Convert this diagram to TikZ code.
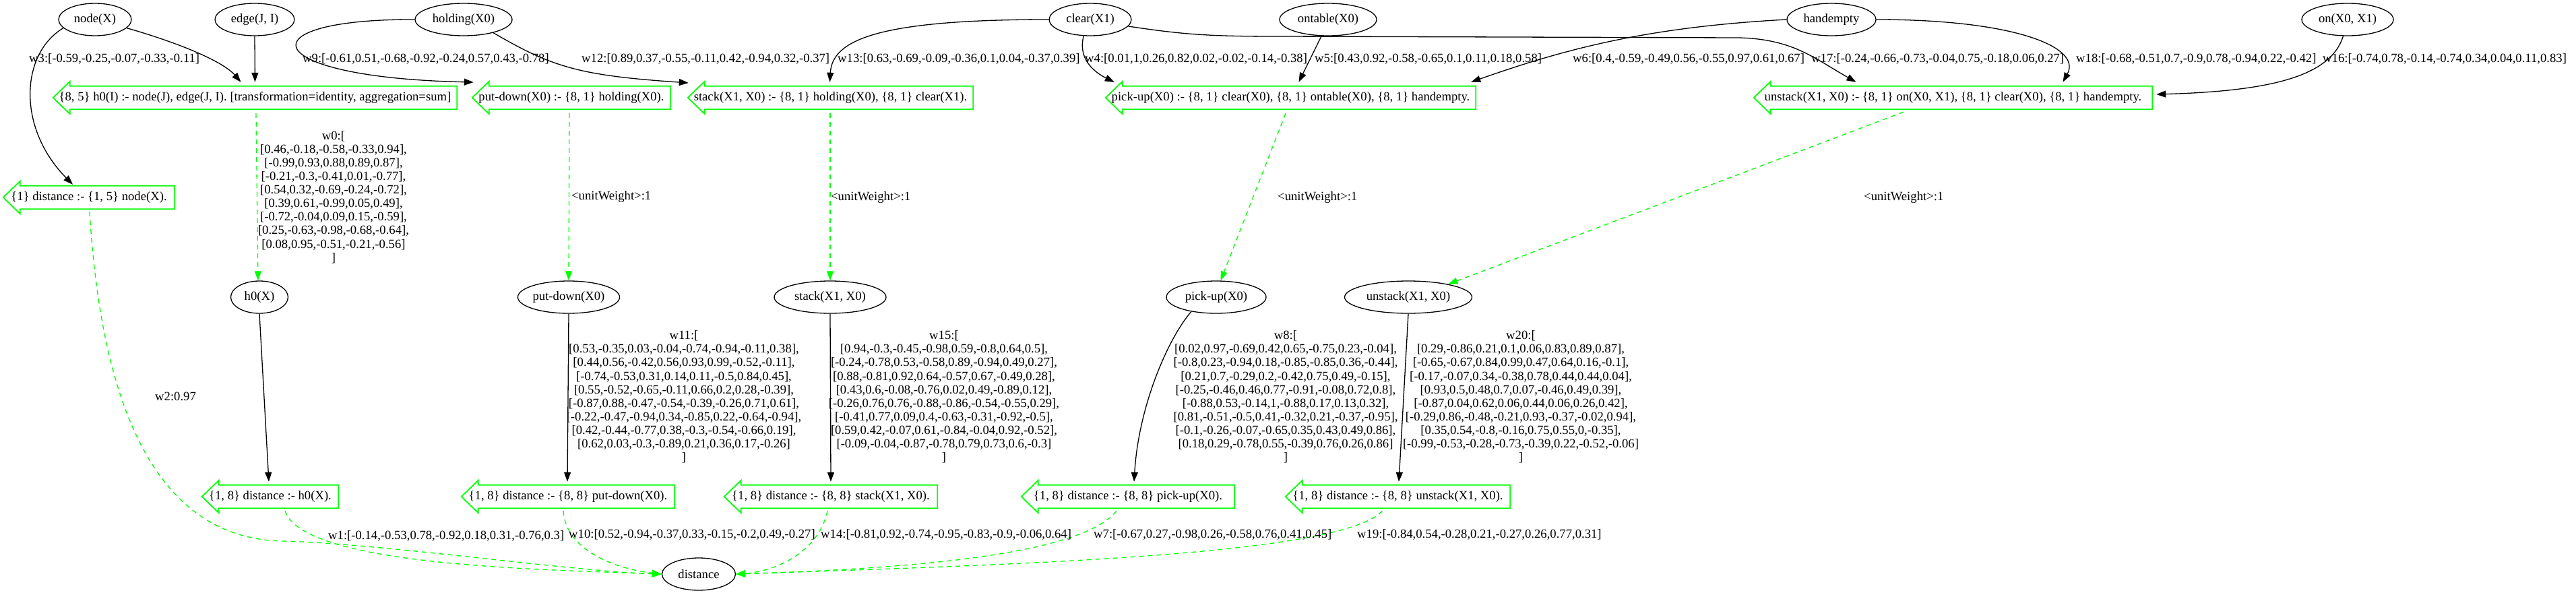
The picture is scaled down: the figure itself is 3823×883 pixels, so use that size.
\documentclass[tikz,border=0pt]{standalone}
\usepackage{fontspec}
\setmainfont{Liberation Serif}
\usetikzlibrary{shapes.geometric,arrows.meta}
\definecolor{gcol}{RGB}{0,255,0}
\tikzset{
  every node/.style={font=\fontsize{18.67pt}{20.1pt}\selectfont, inner sep=0pt},
  atom/.style={draw, ellipse, line width=1.3pt, minimum height=48pt},
  rulebox/.style={minimum height=34pt, inner sep=0pt},
  ruleline/.style={draw=gcol, line width=1.8pt, line join=miter},
  conn/.style={draw, line width=1.3pt, -{Triangle[length=14pt,width=10pt]}},
  gconn/.style={draw=gcol, line width=1.3pt, dash pattern=on 7pt off 6pt, -{Triangle[length=14pt,width=10pt]}},
  wlabel/.style={anchor=west},
  mlabel/.style={align=center}
}
\newcommand{\larrowline}[1]{\draw[ruleline] ([xshift=25pt]#1.north west) -- (#1.north east) -- (#1.south east) -- ([xshift=25pt]#1.south west) -- ([xshift=25pt,yshift=-7pt]#1.south west) -- (#1.west) -- ([xshift=25pt,yshift=7pt]#1.north west) -- cycle;}
\begin{document}
\begin{tikzpicture}[x=1pt,y=-1pt]
\useasboundingbox[fill=white] (0,0) rectangle (3823,883);
% atoms
\node[atom, minimum width=108pt] (nodeX) at (141,29) {node(X)};
\node[atom, minimum width=118pt] (edgeJI) at (378,29) {edge(J, I)};
\node[atom, minimum width=144pt] (holding) at (688,29) {holding(X0)};
\node[atom, minimum width=122pt] (clear) at (1618,29) {clear(X1)};
\node[atom, minimum width=144pt] (ontable) at (1971,29) {ontable(X0)};
\node[atom, minimum width=132pt] (handempty) at (2718,29) {handempty};
\node[atom, minimum width=136pt] (onXX) at (3484,29) {on(X0, X1)};
\node[atom, minimum width=85pt] (h0X) at (385,441) {h0(X)};
\node[atom, minimum width=150pt] (pdE) at (844,441) {put-down(X0)};
\node[atom, minimum width=166pt] (stE) at (1232,441) {stack(X1, X0)};
\node[atom, minimum width=148pt] (puE) at (1805,441) {pick-up(X0)};
\node[atom, minimum width=189pt] (unE) at (2090,441) {unstack(X1, X0)};
\node[atom, minimum width=109pt] (dist) at (1037,852) {distance};
% rules
\node[rulebox, minimum width=599pt] (rh0) at (378.5,145) {\{8, 5\} h0(I) :- node(J), edge(J, I). [transformation=identity, aggregation=sum]};
\node[rulebox, minimum width=294pt] (rpd) at (848,145) {put-down(X0) :- \{8, 1\} holding(X0).};
\node[rulebox, minimum width=423pt] (rst) at (1232.5,145) {stack(X1, X0) :- \{8, 1\} holding(X0), \{8, 1\} clear(X1).};
\node[rulebox, minimum width=549pt] (rpu) at (1915.5,145) {pick-up(X0) :- \{8, 1\} clear(X0), \{8, 1\} ontable(X0), \{8, 1\} handempty.};
\node[rulebox, minimum width=591pt] (run) at (2898.5,145) {unstack(X1, X0) :- \{8, 1\} on(X0, X1), \{8, 1\} clear(X0), \{8, 1\} handempty.};
\node[rulebox, minimum width=254pt] (rd1) at (132,293) {\{1\} distance :- \{1, 5\} node(X).};
\node[rulebox, minimum width=202pt] (dh0) at (401,737) {\{1, 8\} distance :- h0(X).};
\node[rulebox, minimum width=316pt] (dpd) at (843,737) {\{1, 8\} distance :- \{8, 8\} put-down(X0).};
\node[rulebox, minimum width=316pt] (dst) at (1233,737) {\{1, 8\} distance :- \{8, 8\} stack(X1, X0).};
\node[rulebox, minimum width=316pt] (dpu) at (1674,737) {\{1, 8\} distance :- \{8, 8\} pick-up(X0).};
\node[rulebox, minimum width=333pt] (dun) at (2074.5,737) {\{1, 8\} distance :- \{8, 8\} unstack(X1, X0).};
\foreach \n in {rh0,rpd,rst,rpu,run,rd1,dh0,dpd,dst,dpu,dun} {\larrowline{\n}}
% black connectors (top)
\draw[conn] (nodeX.195) .. controls (30,80) and (25,190) .. ([xshift=-24pt,yshift=2pt]rd1.north);
\draw[conn] (nodeX.-15) .. controls (260,62) and (330,90) .. ([xshift=-21pt,yshift=6pt]rh0.north);
\draw[conn] (edgeJI.south) -- ([yshift=6pt]rh0.north);
\draw[conn] (holding.west) .. controls (360,28) and (380,115) .. ([xshift=2pt,yshift=23pt]rpd.west);
\draw[conn] (holding.-24) .. controls (820,100) and (860,112) .. ([xshift=1pt,yshift=22pt]rst.west);
\draw[conn] (clear.west) .. controls (1300,29) and (1235,60) .. ([xshift=-1pt,yshift=6pt]rst.north);
\draw[conn] (clear.-112) .. controls (1600,85) and (1620,105) .. ([xshift=13pt,yshift=23pt]rpu.west);
\draw[conn] (ontable.-112) -- ([xshift=12pt,yshift=6pt]rpu.north);
\draw[conn] (handempty.west) .. controls (2450,40) and (2330,70) .. ([xshift=-7pt,yshift=6pt]rpu.north east);
\draw[conn] (clear.-10) .. controls (1760,52) and (1800,54) .. (1900,54) -- (2580,56) .. controls (2660,58) and (2690,85) .. ([xshift=-144pt,yshift=6pt]run.north);
\draw[conn] (handempty.east) .. controls (2990,29) and (3090,70) .. ([xshift=163pt,yshift=6pt]run.north);
\draw[conn] (onXX.-105) .. controls (3460,110) and (3380,135) .. ([xshift=6pt,yshift=5pt]run.east);
% green rule -> atom
\draw[gconn] ([xshift=1.5pt,yshift=-6pt]rh0.south) -- ([xshift=-2pt]h0X.north);
\draw[gconn] ([xshift=-3pt,yshift=-6pt]rpd.south) -- (pdE.north);
\draw[gconn] ([xshift=-0.5pt,yshift=-6pt]rst.south) -- (stE.north);
\draw[gconn] ([xshift=-7.5pt,yshift=-6pt]rpu.south) -- (puE.75);
\draw[gconn] ([xshift=-73.5pt,yshift=-4pt]run.south) -- (unE.18);
% black atom -> distance rules
\draw[conn] (h0X.south) -- ([xshift=-2pt,yshift=5pt]dh0.north);
\draw[conn] (pdE.south) -- ([xshift=-1pt,yshift=5pt]dpd.north);
\draw[conn] (stE.south) -- ([yshift=5pt]dst.north);
\draw[conn] (puE.210) .. controls (1735,500) and (1690,600) .. ([xshift=9pt,yshift=5pt]dpu.north);
\draw[conn] (unE.south) -- ([xshift=1.5pt,yshift=5pt]dun.north);
% green to distance
\draw[gconn] ([xshift=1pt,yshift=-4pt]rd1.south) .. controls (150,600) and (230,800) .. (420,803) .. controls (560,806) and (850,848) .. (dist.west);
\draw[gconn] ([xshift=22pt,yshift=-4pt]dh0.south) .. controls (450,840) and (800,845) .. (dist.west);
\draw[gconn] ([xshift=-7pt,yshift=-4pt]dpd.south) .. controls (840,820) and (920,845) .. (dist.west);
\draw[gconn] ([xshift=-5pt,yshift=-4pt]dst.south) .. controls (1215,820) and (1150,848) .. (dist.east);
\draw[gconn] ([xshift=-17pt,yshift=-4pt]dpu.south) .. controls (1600,830) and (1300,845) .. (dist.east);
\draw[gconn] ([xshift=-23pt,yshift=-4pt]dun.south) .. controls (1990,825) and (1500,838) .. (dist.east);
% edge labels
\node[wlabel] (lw3) at (43,87) {w3:[-0.59,-0.25,-0.07,-0.33,-0.11]};
\node[wlabel] (lw9) at (449,87) {w9:[-0.61,0.51,-0.68,-0.92,-0.24,0.57,0.43,-0.78]};
\node[wlabel] (lw12) at (863,87) {w12:[0.89,0.37,-0.55,-0.11,0.42,-0.94,0.32,-0.37]};
\node[wlabel] (lw13) at (1243,87) {w13:[0.63,-0.69,-0.09,-0.36,0.1,0.04,-0.37,0.39]};
\node[wlabel] (lw4) at (1610,87) {w4:[0.01,1,0.26,0.82,0.02,-0.02,-0.14,-0.38]};
\node[wlabel] (lw5) at (1951,87) {w5:[0.43,0.92,-0.58,-0.65,0.1,0.11,0.18,0.58]};
\node[wlabel] (lw6) at (2334,87) {w6:[0.4,-0.59,-0.49,0.56,-0.55,0.97,0.61,0.67]};
\node[wlabel] (lw17) at (2688,87) {w17:[-0.24,-0.66,-0.73,-0.04,0.75,-0.18,0.06,0.27]};
\node[wlabel] (lw18) at (3081,87) {w18:[-0.68,-0.51,0.7,-0.9,0.78,-0.94,0.22,-0.42]};
\node[wlabel] (lw16) at (3447,87) {w16:[-0.74,0.78,-0.14,-0.74,0.34,0.04,0.11,0.83]};
\node[wlabel] (lu1) at (848,292) {<unitWeight>:1};
\node[wlabel] (lu2) at (1233,293) {<unitWeight>:1};
\node[wlabel] (lu3) at (1896,293) {<unitWeight>:1};
\node[wlabel] (lu4) at (2766,293) {<unitWeight>:1};
\node[wlabel] (lw2) at (230,588) {w2:0.97};
\node[wlabel] (lw1) at (487,795) {w1:[-0.14,-0.53,0.78,-0.92,0.18,0.31,-0.76,0.3]};
\node[wlabel] (lw10) at (844,793) {w10:[0.52,-0.94,-0.37,0.33,-0.15,-0.2,0.49,-0.27]};
\node[wlabel] (lw14) at (1218,793) {w14:[-0.81,0.92,-0.74,-0.95,-0.83,-0.9,-0.06,0.64]};
\node[wlabel] (lw7) at (1623,793) {w7:[-0.67,0.27,-0.98,0.26,-0.58,0.76,0.41,0.45]};
\node[wlabel] (lw19) at (2014,793) {w19:[-0.84,0.54,-0.28,0.21,-0.27,0.26,0.77,0.31]};
% matrices
\node[mlabel] (lw0) at (495,292.5) {w0:[\\{}[0.46,-0.18,-0.58,-0.33,0.94],\\{}[-0.99,0.93,0.88,0.89,0.87],\\{}[-0.21,-0.3,-0.41,0.01,-0.77],\\{}[0.54,0.32,-0.69,-0.24,-0.72],\\{}[0.39,0.61,-0.99,0.05,0.49],\\{}[-0.72,-0.04,0.09,0.15,-0.59],\\{}[0.25,-0.63,-0.98,-0.68,-0.64],\\{}[0.08,0.95,-0.51,-0.21,-0.56]\\{}]};
\node[mlabel] (lw11) at (1015,589) {w11:[\\{}[0.53,-0.35,0.03,-0.04,-0.74,-0.94,-0.11,0.38],\\{}[0.44,0.56,-0.42,0.56,0.93,0.99,-0.52,-0.11],\\{}[-0.74,-0.53,0.31,0.14,0.11,-0.5,0.84,0.45],\\{}[0.55,-0.52,-0.65,-0.11,0.66,0.2,0.28,-0.39],\\{}[-0.87,0.88,-0.47,-0.54,-0.39,-0.26,0.71,0.61],\\{}[-0.22,-0.47,-0.94,0.34,-0.85,0.22,-0.64,-0.94],\\{}[0.42,-0.44,-0.77,0.38,-0.3,-0.54,-0.66,0.19],\\{}[0.62,0.03,-0.3,-0.89,0.21,0.36,0.17,-0.26]\\{}]};
\node[mlabel] (lw15) at (1401,589) {w15:[\\{}[0.94,-0.3,-0.45,-0.98,0.59,-0.8,0.64,0.5],\\{}[-0.24,-0.78,0.53,-0.58,0.89,-0.94,0.49,0.27],\\{}[0.88,-0.81,0.92,0.64,-0.57,0.67,-0.49,0.28],\\{}[0.43,0.6,-0.08,-0.76,0.02,0.49,-0.89,0.12],\\{}[-0.26,0.76,0.76,-0.88,-0.86,-0.54,-0.55,0.29],\\{}[-0.41,0.77,0.09,0.4,-0.63,-0.31,-0.92,-0.5],\\{}[0.59,0.42,-0.07,0.61,-0.84,-0.04,0.92,-0.52],\\{}[-0.09,-0.04,-0.87,-0.78,0.79,0.73,0.6,-0.3]\\{}]};
\node[mlabel] (lw8) at (1908,589) {w8:[\\{}[0.02,0.97,-0.69,0.42,0.65,-0.75,0.23,-0.04],\\{}[-0.8,0.23,-0.94,0.18,-0.85,-0.85,0.36,-0.44],\\{}[0.21,0.7,-0.29,0.2,-0.42,0.75,0.49,-0.15],\\{}[-0.25,-0.46,0.46,0.77,-0.91,-0.08,0.72,0.8],\\{}[-0.88,0.53,-0.14,1,-0.88,0.17,0.13,0.32],\\{}[0.81,-0.51,-0.5,0.41,-0.32,0.21,-0.37,-0.95],\\{}[-0.1,-0.26,-0.07,-0.65,0.35,0.43,0.49,0.86],\\{}[0.18,0.29,-0.78,0.55,-0.39,0.76,0.26,0.86]\\{}]};
\node[mlabel] (lw20) at (2257,589) {w20:[\\{}[0.29,-0.86,0.21,0.1,0.06,0.83,0.89,0.87],\\{}[-0.65,-0.67,0.84,0.99,0.47,0.64,0.16,-0.1],\\{}[-0.17,-0.07,0.34,-0.38,0.78,0.44,0.44,0.04],\\{}[0.93,0.5,0.48,0.7,0.07,-0.46,0.49,0.39],\\{}[-0.87,0.04,0.62,0.06,0.44,0.06,0.26,0.42],\\{}[-0.29,0.86,-0.48,-0.21,0.93,-0.37,-0.02,0.94],\\{}[0.35,0.54,-0.8,-0.16,0.75,0.55,0,-0.35],\\{}[-0.99,-0.53,-0.28,-0.73,-0.39,0.22,-0.52,-0.06]\\{}]};
\end{tikzpicture}
\end{document}
